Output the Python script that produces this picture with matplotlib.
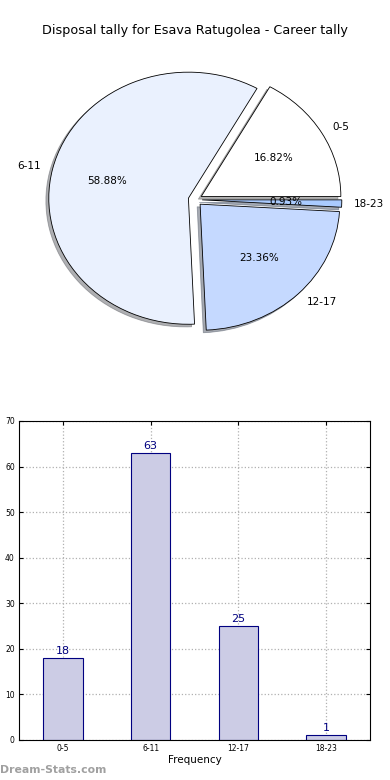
import numpy as np
import matplotlib
matplotlib.use('Agg')
import matplotlib.pyplot as plt

# data
categories = ['0-5', '6-11', '12-17', '18-23']
counts = [18, 63, 25, 1]
pie_colors = ['#ffffff', '#eaf1fe', '#c5d9ff', '#aacbff']
explode = [0.05, 0.05, 0.05, 0.05]
title = 'Disposal tally for Esava Ratugolea - Career tally'

fig = plt.figure(figsize=(3.9, 7.8), dpi=100)

# pie
ax1 = fig.add_axes([0.053, 0.542, 0.895, 0.404])
wedges, texts, autotexts = ax1.pie(counts, labels=categories, colors=pie_colors,
                                   explode=explode, autopct='%1.2f%%',
                                   shadow={'ox': -0.015, 'oy': -0.015, 'shade': 0.6},
                                   startangle=0, labeldistance=1.09, pctdistance=0.6,
                                   wedgeprops={'edgecolor': 'black', 'linewidth': 0.6},
                                   textprops={'fontsize': 7.5})
ax1.set_aspect('auto')
ax1.set_xlim(-1.25, 1.25)
ax1.set_ylim(-1.25, 1.25)
fig.text(0.5, 0.961, title, ha='center', va='center', fontsize=9.2)

# bars
ax2 = fig.add_axes([0.0487, 0.0513, 0.9, 0.409])
x = np.arange(len(categories))
ax2.bar(x, counts, width=0.45, color='#ccccE5', edgecolor='#000080',
        linewidth=0.8, zorder=2)
for xi, c in zip(x, counts):
    ax2.text(xi, c + 0.5, str(c), ha='center', va='bottom', color='#000080', fontsize=8)
ax2.set_xlim(-0.5, 3.5)
ax2.set_ylim(0, 70)
ax2.set_xticks(x)
ax2.set_xticklabels(categories)
ax2.set_yticks(np.arange(0, 71, 10))
ax2.tick_params(direction='in', labelsize=5.5, top=True, right=True, length=3, pad=3)
ax2.grid(True, linestyle=':', color='#b0b0b0', linewidth=0.9, zorder=0)
ax2.set_axisbelow(True)
ax2.set_xlabel('Frequency', fontsize=7.5, labelpad=1)

fig.text(0.0, 0.013, 'Dream-Stats.com', ha='left', va='center', fontsize=7.8,
         color='#a0a0a0', fontweight='bold')

fig.savefig('out.png', dpi=100)
